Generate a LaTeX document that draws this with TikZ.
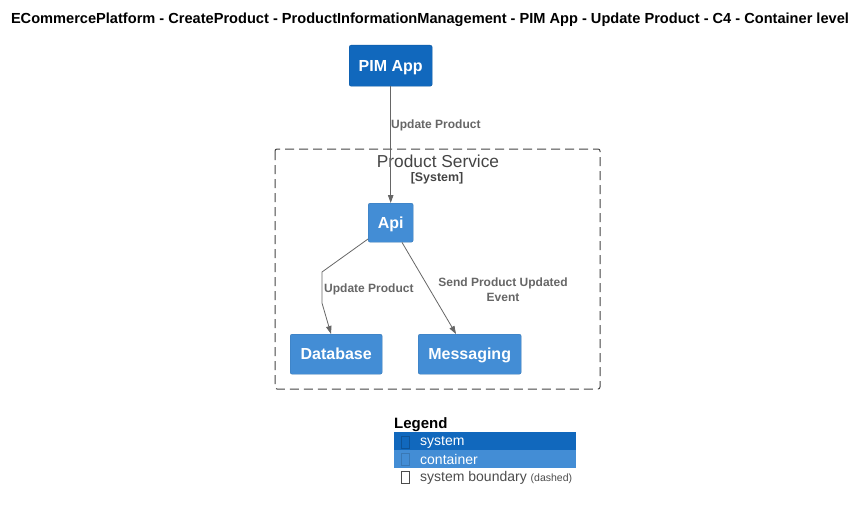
\documentclass[tikz,border=0pt]{standalone}
\usepackage{fontspec}
\setmainfont{Liberation Sans}
\usetikzlibrary{arrows.meta}
\definecolor{sysblue}{HTML}{1168BD}
\definecolor{conblue}{HTML}{438DD5}
\definecolor{linegray}{HTML}{666666}
\definecolor{bndgray}{HTML}{444444}
\tikzset{
  sysbox/.style={draw=sysblue!85!black, fill=sysblue, rounded corners=2pt, text=white, font=\bfseries\fontsize{16}{19}\selectfont, inner sep=0pt, text height=11.5pt, text depth=0pt, anchor=north west},
  conbox/.style={draw=conblue!85!black, fill=conblue, rounded corners=2pt, text=white, font=\bfseries\fontsize{16}{19}\selectfont, inner sep=0pt, text height=11.5pt, text depth=0pt, anchor=north west},
  rel/.style={draw=linegray, line width=0.8pt, -{Triangle[length=8pt,width=5.5pt]}},
  rellabel/.style={text=linegray, font=\bfseries\fontsize{12}{14.5}\selectfont, inner sep=0pt},
  legtext/.style={font=\fontsize{14}{16}\selectfont, inner sep=0pt, anchor=west},
  legmark/.style={draw, line width=0.5pt, minimum width=8pt, minimum height=12pt, inner sep=0pt}
}
\begin{document}
\begin{tikzpicture}[x=1pt,y=-1pt]
\useasboundingbox (0,0) rectangle (867,511);
% title
\node[font=\bfseries\fontsize{14.6}{17}\selectfont, inner sep=0pt] (title) at (430,20) {ECommercePlatform - CreateProduct - ProductInformationManagement - PIM App - Update Product - C4 - Container level};
% boundary
\draw[bndgray, dash pattern=on 9pt off 5pt, line width=1pt, rounded corners=2pt] (275,149) rectangle (600,389);
\node[text=bndgray, font=\fontsize{17.3}{20}\selectfont, inner sep=0pt] (bndtitle) at (438,161.5) {Product Service};
\node[text=bndgray, font=\bfseries\fontsize{12.4}{14}\selectfont, inner sep=0pt] (bndsub) at (437,178.5) {[System]};
% nodes
\node[sysbox, minimum width=83pt, minimum height=41pt] (pim) at (349,45) {PIM App};
\node[conbox, minimum width=45pt, minimum height=39pt] (api) at (368,203) {Api};
\node[conbox, minimum width=92pt, minimum height=40pt] (db) at (290,334) {Database};
\node[conbox, minimum width=103pt, minimum height=40pt] (msg) at (418,334) {Messaging};
% connectors
\coordinate (b1) at (322,272);
\coordinate (b2) at (322,303);
\draw[rel] (pim.south) -- (api.north);
\node[rellabel, anchor=west] (l1) at (391,125) {Update Product};
\draw[rel] (api.south west |- 0,239) -- (b1) -- (b2) -- (db.north -| 331,0);
\node[rellabel, anchor=west] (l2) at (324,289.5) {Update Product};
\draw[rel] (api.south -| 402,0) -- (msg.north -| 456,0);
\node[rellabel, align=center] (l3) at (503,289.5) {Send Product Updated\\Event};
% legend
\node[font=\bfseries\fontsize{15}{17}\selectfont, inner sep=0pt, anchor=west] (legtitle) at (394,424.5) {Legend};
\fill[sysblue] (394,432) rectangle (576,450);
\fill[conblue] (394,450) rectangle (576,467.5);
\node[legmark, draw=sysblue!80!black] (m1) at (405,442) {};
\node[legmark, draw=conblue!85!black] (m2) at (405,459) {};
\node[legmark, draw=black!70] (m3) at (405,477.5) {};
\node[legtext, text=white] (t1) at (420,442) {system};
\node[legtext, text=white] (t2) at (420,459) {container};
\node[legtext, text=black!70] (t3) at (420,478) {system boundary \fontsize{10.5}{12}\selectfont(dashed)};
\end{tikzpicture}
\end{document}
